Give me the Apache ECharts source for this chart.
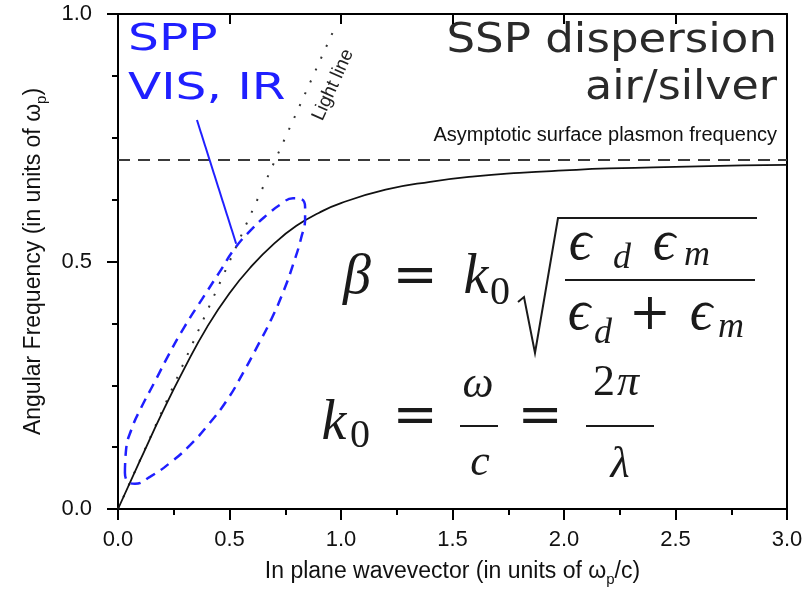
<!DOCTYPE html>
<html>
<head>
<meta charset="utf-8">
<script src="https://cdn.jsdelivr.net/npm/echarts@6/dist/echarts.min.js"></script>
<style>
  html, body { margin: 0; padding: 0; background: #fff; }
  #chart { width: 802px; height: 591px; }
</style>
</head>
<body>
<div id="chart"></div>
<script>
// in plane wavevector (units of wp/c) and angular frequency (units of wp)
const waveK   = [0, 0.1, 0.2, 0.3, 0.4, 0.5, 0.6, 0.7, 0.8, 0.9, 1.0, 1.2, 1.4, 1.6, 1.8, 2.0, 2.2, 2.4, 2.6, 2.8, 3.0];
const sppFreq = [0, 0.099, 0.196, 0.286, 0.368, 0.436, 0.491, 0.536, 0.572, 0.598, 0.618, 0.645, 0.661, 0.672, 0.679, 0.684, 0.688, 0.690, 0.692, 0.694, 0.695];

// light line (dotted)
const lightK    = [0, 0.98];
const lightFreq = [0, 0.98];

// asymptotic surface plasmon frequency (dashed)
const asymK    = [0, 3.0];
const asymFreq = [0.705, 0.705];

// blue dashed loop around the VIS / IR part of the curve
const loopK    = [0.031, 0.036, 0.063, 0.103, 0.166, 0.229, 0.298, 0.377, 0.453, 0.525, 0.601, 0.668, 0.731, 0.785, 0.821, 0.839, 0.839, 0.821, 0.789, 0.744, 0.686, 0.623, 0.561, 0.489, 0.408, 0.323, 0.233, 0.143, 0.076, 0.040, 0.031];
const loopFreq = [0.073, 0.119, 0.164, 0.204, 0.258, 0.313, 0.368, 0.424, 0.477, 0.527, 0.566, 0.594, 0.616, 0.628, 0.626, 0.610, 0.588, 0.547, 0.499, 0.442, 0.382, 0.327, 0.275, 0.220, 0.172, 0.129, 0.093, 0.065, 0.051, 0.057, 0.073];

// pointer from the SPP label to the loop
const pointerK    = [0.354, 0.530];
const pointerFreq = [0.786, 0.536];

const xTickLabels = ['0.0', '0.5', '1.0', '1.5', '2.0', '2.5', '3.0'];
const yTickLabels = ['0.0', '0.5', '1.0'];

const sans  = "'Liberation Sans', Arial, sans-serif";
const serif = "'Liberation Serif', 'DejaVu Serif', serif";
const wide  = "'DejaVu Sans', sans-serif";
const ink = '#1a1a1a';
const blue = '#1f1fff';

function pairs(xs, ys) {
  return xs.map((x, i) => [x, ys[i]]);
}

// one piece of the formulas, placed by its baseline
function glyph(txt, x, base, size, italic, family) {
  return {
    type: 'text', x: x, y: base - 0.34 * size, silent: true,
    style: {
      text: txt, fill: ink, fontSize: size, fontFamily: family || serif,
      fontStyle: italic ? 'italic' : 'normal',
      align: 'center', textAlign: 'center', verticalAlign: 'middle', textVerticalAlign: 'middle'
    }
  };
}
function bar(x1, x2, y, w) {
  return { type: 'line', silent: true, shape: { x1: x1, y1: y, x2: x2, y2: y }, style: { stroke: ink, lineWidth: w || 2 } };
}

const formula = [
  // beta = k0 sqrt(ed em / (ed + em))
  glyph('β', 357, 297, 56, true),
  glyph('=', 415, 297, 54, false, "'DejaVu Serif', serif"),
  glyph('k', 476, 297, 56, true),
  glyph('0', 500, 307, 40, false),
  { type: 'polyline', silent: true, shape: { points: [[518, 302], [524, 297], [535, 353], [558, 218], [757, 218]] }, style: { stroke: ink, lineWidth: 2, fill: null } },
  glyph('ϵ', 580, 263, 56, true),
  glyph('d', 622, 271, 36, true),
  glyph('ϵ', 664, 263, 56, true),
  glyph('m', 697, 268, 36, true),
  bar(565, 755, 280, 2),
  glyph('ϵ', 579, 333, 56, true),
  glyph('d', 603, 346, 36, true),
  glyph('+', 650, 333, 50, false, "'DejaVu Serif', serif"),
  glyph('ϵ', 701, 333, 56, true),
  glyph('m', 731, 340, 36, true),
  // k0 = w / c = 2pi / lambda
  glyph('k', 334, 443, 56, true),
  glyph('0', 360, 450, 40, false),
  glyph('=', 415, 437, 54, false, "'DejaVu Serif', serif"),
  glyph('ω', 478, 400, 44, true),
  bar(460, 498, 426, 2),
  glyph('c', 480, 478, 44, true),
  glyph('=', 540, 437, 54, false, "'DejaVu Serif', serif"),
  glyph('2', 604, 398, 44, false),
  glyph('π', 628, 398, 44, true),
  bar(586, 654, 426, 2),
  glyph('λ', 620, 480, 44, true)
];

const labels = [
  { type: 'text', x: 128, y: 40, scaleX: 1.28, silent: true,
    style: { text: 'SPP', fill: blue, fontSize: 38, fontFamily: wide, align: 'left', textAlign: 'left', verticalAlign: 'middle', textVerticalAlign: 'middle' } },
  { type: 'text', x: 128, y: 89, scaleX: 1.28, silent: true,
    style: { text: 'VIS, IR', fill: blue, fontSize: 38, fontFamily: wide, align: 'left', textAlign: 'left', verticalAlign: 'middle', textVerticalAlign: 'middle' } },
  { type: 'text', x: 777, y: 41, scaleX: 1.1, silent: true,
    style: { text: 'SSP dispersion', fill: '#2a2a2a', fontSize: 41, fontFamily: wide, align: 'right', textAlign: 'right', verticalAlign: 'middle', textVerticalAlign: 'middle' } },
  { type: 'text', x: 777, y: 88, scaleX: 1.08, silent: true,
    style: { text: 'air/silver', fill: '#2a2a2a', fontSize: 41, fontFamily: wide, align: 'right', textAlign: 'right', verticalAlign: 'middle', textVerticalAlign: 'middle' } },
  { type: 'text', x: 777, y: 135, silent: true,
    style: { text: 'Asymptotic surface plasmon frequency', fill: '#111', fontSize: 20, fontFamily: sans, align: 'right', textAlign: 'right', verticalAlign: 'middle', textVerticalAlign: 'middle' } },
  { type: 'text', x: 333, y: 85, rotation: 1.147, silent: true,
    style: { text: 'Light line', fill: '#222', fontSize: 19, fontFamily: sans, align: 'center', textAlign: 'center', verticalAlign: 'middle', textVerticalAlign: 'middle' } }
];

const chart = echarts.init(document.getElementById('chart'), null, { renderer: 'canvas' });

const axisLineStyle = { color: '#000', width: 2 };

const option = {
  animation: false,
  backgroundColor: '#fff',
  grid: { left: 118, right: 15, top: 14, bottom: 82, containLabel: false, outerBoundsMode: 'none' },
  xAxis: [
    {
      type: 'value', min: 0, max: 3, interval: 0.5, position: 'bottom',
      name: '{a|In plane wavevector (in units of ω}{s|p}{a|/c)}',
      nameLocation: 'middle', nameGap: 48, nameMoveOverlap: false,
      nameTextStyle: {
        rich: {
          a: { fontSize: 23, fontFamily: sans, color: '#111', lineHeight: 30 },
          s: { fontSize: 15, fontFamily: sans, color: '#111', lineHeight: 15, verticalAlign: 'bottom' }
        }
      },
      axisLine: { show: true, onZero: false, lineStyle: axisLineStyle },
      axisTick: { show: true, inside: false, length: 11, lineStyle: axisLineStyle },
      minorTick: { show: true, splitNumber: 2, length: 6, lineStyle: axisLineStyle },
      splitLine: { show: false },
      minorSplitLine: { show: false },
      axisLabel: {
        show: true, margin: 20, fontSize: 22, fontFamily: sans, color: '#111',
        showMinLabel: true, showMaxLabel: true, hideOverlap: false,
        formatter: (v) => xTickLabels[Math.round(v / 0.5)]
      }
    },
    {
      type: 'value', min: 0, max: 3, interval: 0.5, position: 'top',
      axisLine: { show: true, onZero: false, lineStyle: axisLineStyle },
      axisTick: { show: true, inside: true, length: 10, lineStyle: axisLineStyle },
      axisLabel: { show: false },
      splitLine: { show: false }
    }
  ],
  yAxis: [
    {
      type: 'value', min: 0, max: 1, interval: 0.5, position: 'left',
      name: '{a|Angular Frequency (in units of ω}{s|p}{a|)}',
      nameLocation: 'middle', nameGap: 69, nameMoveOverlap: false,
      nameTextStyle: {
        rich: {
          a: { fontSize: 23, fontFamily: sans, color: '#111', lineHeight: 30 },
          s: { fontSize: 15, fontFamily: sans, color: '#111', lineHeight: 15, verticalAlign: 'bottom' }
        }
      },
      axisLine: { show: true, onZero: false, lineStyle: axisLineStyle },
      axisTick: { show: true, inside: false, length: 11, lineStyle: axisLineStyle },
      minorTick: { show: true, splitNumber: 4, length: 6, lineStyle: axisLineStyle },
      splitLine: { show: false },
      minorSplitLine: { show: false },
      axisLabel: {
        show: true, margin: 26, fontSize: 22, fontFamily: sans, color: '#111',
        showMinLabel: true, showMaxLabel: true, hideOverlap: false,
        formatter: (v) => yTickLabels[Math.round(v / 0.5)]
      }
    },
    {
      type: 'value', min: 0, max: 1, position: 'right',
      axisLine: { show: true, onZero: false, lineStyle: axisLineStyle },
      axisTick: { show: false },
      axisLabel: { show: false },
      splitLine: { show: false }
    }
  ],
  series: [
    {
      name: 'asymptote', type: 'line', data: pairs(asymK, asymFreq), symbol: 'none', silent: true,
      lineStyle: { color: '#3a3a3a', width: 2, type: [12, 8] }, z: 2
    },
    {
      name: 'light line', type: 'line', data: pairs(lightK, lightFreq), symbol: 'none', silent: true,
      lineStyle: { color: '#333', width: 2, type: [2, 11] }, z: 2
    },
    {
      name: 'SPP', type: 'line', data: pairs(waveK, sppFreq), symbol: 'none', smooth: true, silent: true,
      lineStyle: { color: '#111', width: 1.8 }, z: 3
    },
    {
      name: 'loop', type: 'line', data: pairs(loopK, loopFreq), symbol: 'none', smooth: 0.5, silent: true,
      lineStyle: { color: blue, width: 2.5, type: [10, 7] }, z: 4
    },
    {
      name: 'pointer', type: 'line', data: pairs(pointerK, pointerFreq), symbol: 'none', silent: true,
      lineStyle: { color: blue, width: 2 }, z: 4
    }
  ],
  graphic: labels.concat(formula)
};

chart.setOption(option);
</script>
</body>
</html>
